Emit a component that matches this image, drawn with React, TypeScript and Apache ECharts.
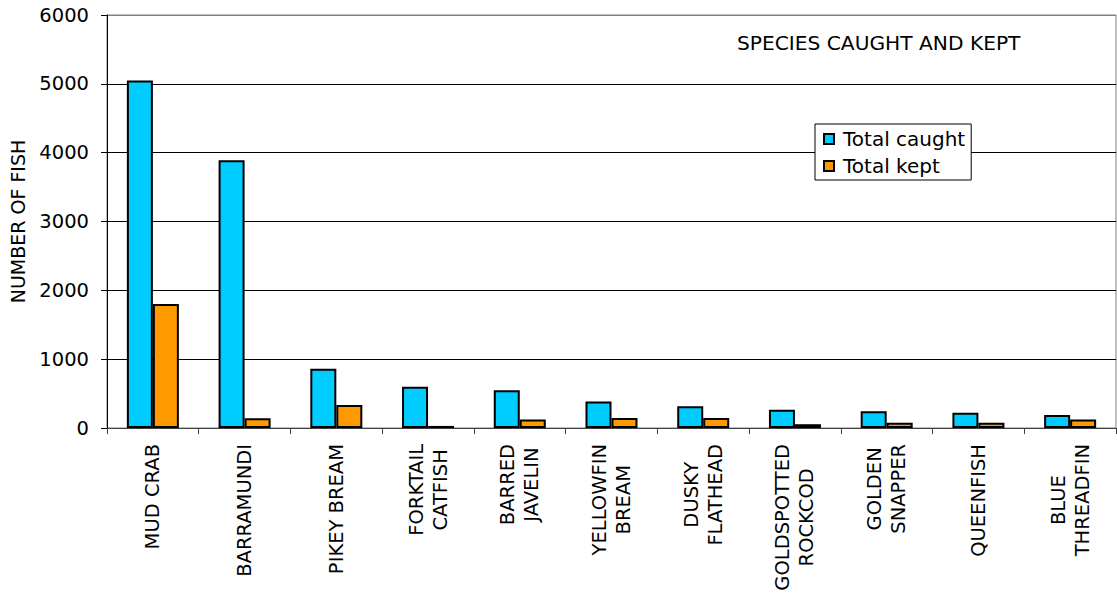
import React, { useEffect, useRef } from "react";
import * as echarts from "echarts";

const categories = [
  "MUD CRAB",
  "BARRAMUNDI",
  "PIKEY BREAM",
  "FORKTAIL\nCATFISH",
  "BARRED\nJAVELIN",
  "YELLOWFIN\nBREAM",
  "DUSKY\nFLATHEAD",
  "GOLDSPOTTED\nROCKCOD",
  "GOLDEN\nSNAPPER",
  "QUEENFISH",
  "BLUE\nTHREADFIN",
];
const totalCaught = [5050, 3890, 860, 600, 550, 385, 315, 265, 245, 220, 190];
const totalKept = [1800, 140, 335, 30, 125, 145, 145, 55, 75, 75, 125];
const yTicks = [0, 1000, 2000, 3000, 4000, 5000, 6000];

const FONT = "DejaVu Sans, Verdana, sans-serif";

export default function App() {
  const ref = useRef<HTMLDivElement>(null);
  useEffect(() => {
    if (!ref.current) return;
    const chart = echarts.init(ref.current, null, { renderer: "svg" });
    chart.setOption({
      animation: false,
      backgroundColor: "#fff",
      textStyle: { fontFamily: FONT },
      title: {
        text: "SPECIES CAUGHT AND KEPT",
        left: 737,
        top: 33,
        padding: 0,
        textStyle: { fontFamily: FONT, fontSize: 20.2, fontWeight: "normal", color: "#000" },
      },
      legend: {
        orient: "vertical",
        left: 815,
        top: 124,
        padding: [5, 6, 4, 8],
        itemGap: 7,
        itemWidth: 10,
        itemHeight: 10,
        icon: "rect",
        borderColor: "#000",
        borderWidth: 1,
        backgroundColor: "#fff",
        textStyle: { fontFamily: FONT, fontSize: 20, color: "#000", padding: [0, 0, 0, 4] },
        data: ["Total caught", "Total kept"],
      },
      grid: {
        left: 106,
        right: 1,
        top: 15,
        bottom: 168,
        show: true,
        borderColor: "#808080",
        borderWidth: 1,
      },
      xAxis: {
        type: "category",
        data: categories,
        boundaryGap: true,
        axisLine: { lineStyle: { color: "#404040", width: 1 } },
        axisTick: { show: true, length: 6, lineStyle: { color: "#404040" } },
        axisLabel: {
          rotate: 90,
          margin: 16,
          interval: 0,
          color: "#000",
          fontFamily: FONT,
          fontSize: 19.5,
          formatter: (v: string) =>
            v
              .split("\n")
              .map((s) => "{c|" + s + "}")
              .join("\n"),
          rich: { c: { align: "center", fontFamily: FONT, fontSize: 19.5, color: "#000", lineHeight: 24 } },
        },
      },
      yAxis: {
        type: "value",
        min: yTicks[0],
        max: yTicks[yTicks.length - 1],
        interval: 1000,
        name: "NUMBER OF FISH",
        nameLocation: "middle",
        nameGap: 80,
        nameTextStyle: { fontFamily: FONT, fontSize: 19, color: "#000" },
        axisLine: { show: true, lineStyle: { color: "#000", width: 1 } },
        axisTick: { show: true, length: 6, lineStyle: { color: "#000" } },
        axisLabel: {
          margin: 18,
          color: "#000",
          fontFamily: FONT,
          fontSize: 19.5,
          formatter: (v: number) => String(v),
        },
        splitLine: {
          show: true,
          lineStyle: {
            color: ["#000", "#000", "#000", "#000", "#000", "#000", "#808080"],
            width: 1,
          },
        },
      },
      series: [
        {
          name: "Total caught",
          type: "bar",
          data: totalCaught,
          barWidth: 26,
          barGap: "0%",
          itemStyle: { color: "#00CCFF", borderColor: "#000", borderWidth: 2 },
        },
        {
          name: "Total kept",
          type: "bar",
          data: totalKept,
          barWidth: 26,
          barGap: "0%",
          itemStyle: { color: "#FF9900", borderColor: "#000", borderWidth: 2 },
        },
      ],
    });
    return () => chart.dispose();
  }, []);
  return (
    <div
      ref={ref}
      style={{ position: "fixed", left: 0, top: 0, width: 1117, height: 596 }}
    />
  );
}
